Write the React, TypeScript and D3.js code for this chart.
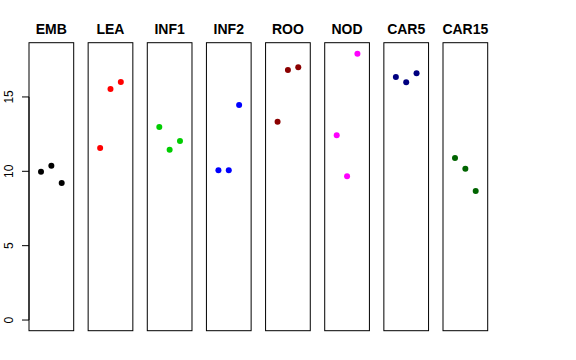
import React from "react";
import * as d3 from "d3";

const categories = ["EMB", "LEA", "INF1", "INF2", "ROO", "NOD", "CAR5", "CAR15"];
const colors = ["#000000", "#FF0000", "#00CD00", "#0000FF", "#8B0000", "#FF00FF", "#000080", "#006400"];
const values: number[][] = [
  [9.97, 10.38, 9.21],
  [11.57, 15.53, 16.0],
  [12.98, 11.45, 12.04],
  [10.07, 10.07, 14.46],
  [13.34, 16.81, 16.99],
  [12.42, 9.66, 17.91],
  [16.34, 15.98, 16.59],
  [10.89, 10.17, 8.68],
];
const yTicks = [0, 5, 10, 15];

export default function App() {
  const W = 576, H = 360;
  const top = 42.7, bottom = 330.7;
  const yMax = 17.93;
  const pad = yMax * 0.04;
  const y = d3.scaleLinear().domain([-pad, yMax + pad]).range([bottom, top]);
  const panelLeft = d3.scaleLinear().domain([0, categories.length - 1]).range([29, 443]);
  const pw = 44.7;
  const xi = d3.scaleLinear().domain([-0.16, 4.16]).range([0, pw]);
  const axisX = panelLeft(0);
  return (
    <svg width={W} height={H} style={{ position: "absolute", left: 0, top: 0, background: "#fff" }}
      fontFamily="'Liberation Sans', Arial, sans-serif">
      <rect x={0} y={0} width={W} height={H} fill="#fff" />
      {categories.map((c, i) => {
        const x0 = panelLeft(i);
        return (
          <g key={c}>
            <rect x={x0} y={top} width={pw} height={bottom - top} fill="none" stroke="#000" strokeWidth={1} />
            <text x={x0 + pw / 2} y={34} textAnchor="middle" fontWeight="bold" fontSize={14}>{c}</text>
            {values[i].map((v, j) => (
              <circle key={j} cx={x0 + xi(j + 1)} cy={y(v)} r={3} fill={colors[i]} />
            ))}
          </g>
        );
      })}
      <line x1={axisX} x2={axisX} y1={y(0)} y2={y(15)} stroke="#000" />
      {yTicks.map((t) => (
        <g key={t}>
          <line x1={axisX - 7} x2={axisX} y1={y(t)} y2={y(t)} stroke="#000" />
          <text transform={`translate(${13.3},${y(t)}) rotate(-90)`} textAnchor="middle" fontSize={12}>{t}</text>
        </g>
      ))}
    </svg>
  );
}
